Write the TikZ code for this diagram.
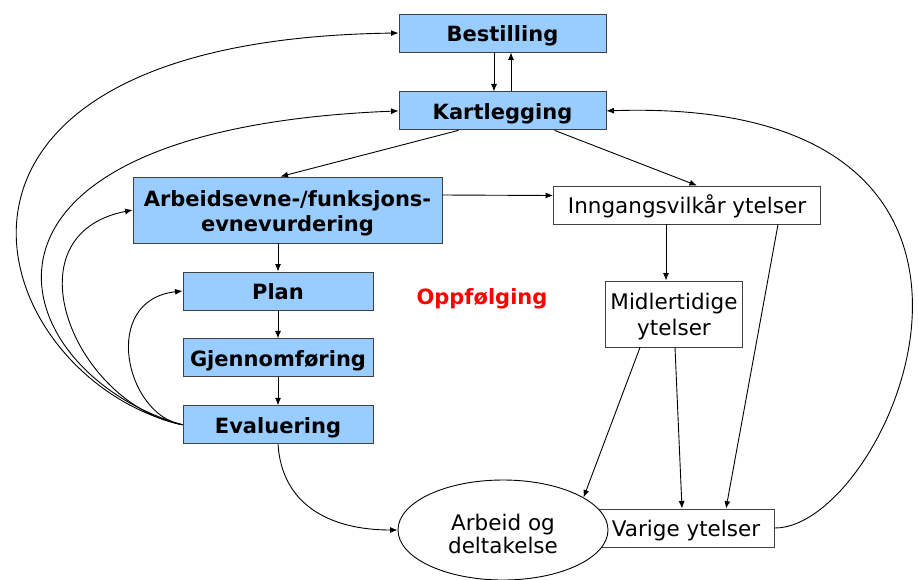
\documentclass[tikz,border=0pt]{standalone}
\usepackage{fontspec}
\setmainfont{DejaVu Sans}
\usepackage{tikz}
\usetikzlibrary{arrows.meta, positioning, shapes.geometric}
\definecolor{boxblue}{HTML}{99CCFF}
\definecolor{edgegray}{HTML}{404040}

\begin{document}
\begin{tikzpicture}[
    x=1pt, y=-1pt,
    font=\fontsize{21.5}{26}\selectfont,
    box/.style={draw=edgegray, line width=0.9pt, minimum height=38pt,
                inner sep=0pt, align=center, fill=white,
                text height=18.5pt, text depth=1pt},
    bluebox/.style={box, fill=boxblue, font=\fontsize{21}{25}\selectfont\bfseries},
    arr/.style={-{Latex[length=7.5pt, width=6pt]}, line width=0.9pt},
    node distance=28pt
]
\useasboundingbox (0,0) rectangle (918,579);

%% ---- process (left column) -------------------------------------
\node[bluebox, minimum width=207pt] (bestilling) at (502.5,33) {Bestilling};
\node[bluebox, minimum width=207pt, below=39pt of bestilling] (kartlegging) {Kartlegging};
\node[bluebox, minimum width=309pt, minimum height=66pt, text height=43.5pt, text depth=1.5pt]
    (arbeidsevne) at (287.5,210) {Arbeidsevne-/funksjons-\\evnevurdering};
\node[bluebox, minimum width=190pt] (plan) at (278,291) {Plan};
\node[bluebox, minimum width=190pt, below=of plan] (gjennomforing) {Gjennomføring};
\node[bluebox, minimum width=190pt, below=of gjennomforing] (evaluering) {Evaluering};

\node[font=\fontsize{21}{25}\selectfont\bfseries, text=red] (oppfolging) at (482,299) {Oppfølging};

%% ---- benefits (right column) -----------------------------------
\node[box, minimum width=267pt] (inngang) at (687,205) {Inngangsvilkår ytelser};
\node[box, minimum width=137pt, minimum height=66pt, text height=44.5pt, text depth=2.5pt]
    (midlertidige) at (674,314) {Midlertidige\\ytelser};
\node[box, minimum width=177pt] (varige) at (686,528) {Varige ytelser};
\node[ellipse, draw=black, line width=0.9pt, fill=white, inner sep=0pt,
      minimum width=210pt, minimum height=100pt, align=center,
      text height=47pt, text depth=1pt,
      font=\fontsize{21.5}{23}\selectfont] (arbeid) at (503,530) {Arbeid og\\deltakelse};

%% ---- connectors ------------------------------------------------
\draw[arr] ([xshift=-8.5pt]bestilling.south) -- ([xshift=-8.5pt]kartlegging.north);
\draw[arr] ([xshift=8.5pt]kartlegging.north) -- ([xshift=8.5pt]bestilling.south);
\draw[arr] ([xshift=-44pt]kartlegging.south) -- ([xshift=-7pt]arbeidsevne.north);
\draw[arr] ([xshift=52pt]kartlegging.south) -- ([xshift=10pt]inngang.north);
\draw[arr] ([yshift=15pt]arbeidsevne.east) -- ([yshift=9.5pt]inngang.west);

\draw[arr] (plan.north |- arbeidsevne.south) -- (plan.north);
\draw[arr] (plan) -- (gjennomforing);
\draw[arr] (gjennomforing) -- (evaluering);

\draw[arr] (evaluering.west) .. controls (125,415) and (100,300) .. (plan.west);
\draw[arr] (evaluering.west) .. controls (75,405) and (5,235) .. (arbeidsevne.west);
\draw[arr] (evaluering.west) .. controls (5,375) and (-80,130) .. (kartlegging.west);
\draw[arr] (evaluering.west) .. controls (-15,380) and (-130,40) .. (bestilling.west);
\draw[arr] (evaluering.south) .. controls (282,505) and (330,530) .. (arbeid.west);

\draw[arr] ([xshift=-8pt]midlertidige.north |- inngang.south) -- ([xshift=-8pt]midlertidige.north);
\draw[arr] ([xshift=91pt]inngang.south) -- ([xshift=40pt]varige.north);
\draw[arr] ([xshift=1pt]midlertidige.south) -- ([xshift=-4pt]varige.north);
\draw[arr] ([xshift=-34pt]midlertidige.south) -- (arbeid.22);
\draw[arr] (varige.east) .. controls (890,528) and (1080,95) .. (kartlegging.east);

\end{tikzpicture}
\end{document}
